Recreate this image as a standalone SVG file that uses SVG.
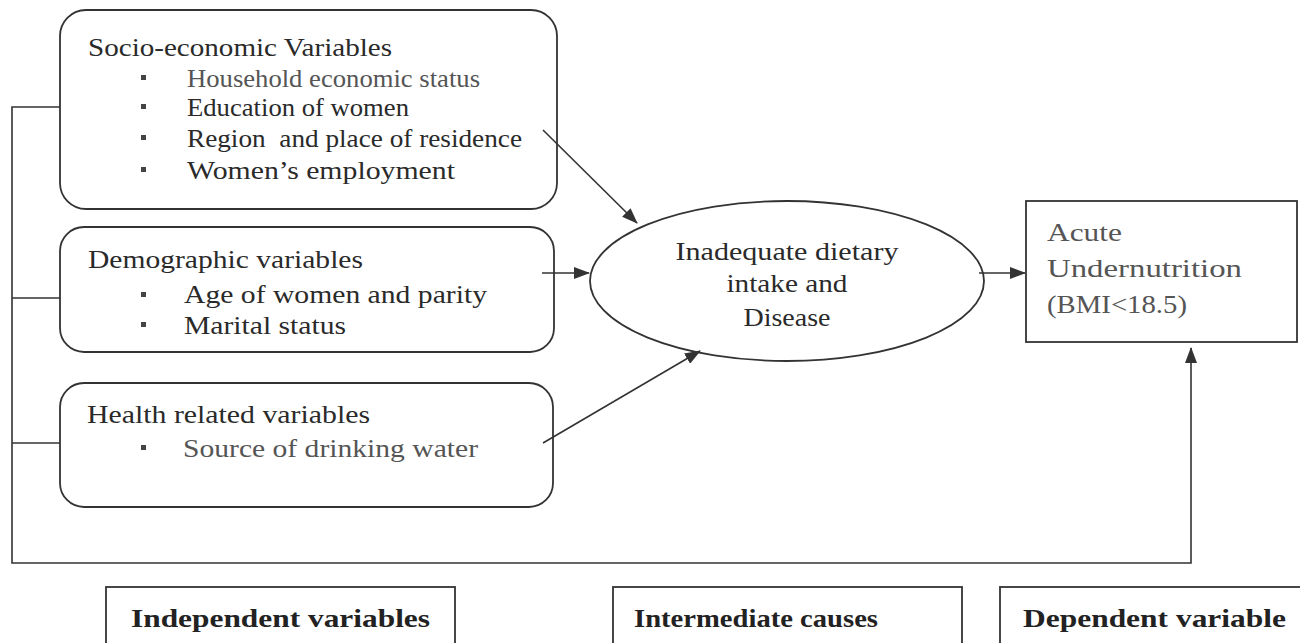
<svg xmlns="http://www.w3.org/2000/svg" width="1300" height="643" viewBox="0 0 1300 643">
<style>
.box{fill:none;stroke:#333;stroke-width:1.8}
.ln{fill:none;stroke:#333;stroke-width:1.6}
.t{font-family:"Liberation Serif","Times New Roman",serif;fill:#2a2a2a;white-space:pre}
.h{font-size:26px}
.i{font-size:25px}
.g{fill:#555}
.b{font-weight:bold;font-size:26px;fill:#222}
.bul{fill:#444}
</style>
<defs>
<marker id="ah" markerWidth="16" markerHeight="12" refX="15" refY="6" orient="auto" markerUnits="userSpaceOnUse">
<path d="M0,0 L16,6 L0,12 Z" fill="#333"/>
</marker>
</defs>
<rect width="1300" height="643" fill="#fff"/>
<g id="connectors">
<polyline class="ln" points="60,107 12,107 12,563 1191,563 1191,348" marker-end="url(#ah)"/>
<line class="ln" x1="12" y1="298" x2="60" y2="298"/>
<line class="ln" x1="12" y1="443" x2="60" y2="443"/>
<line class="ln" x1="543" y1="130" x2="637" y2="223" marker-end="url(#ah)"/>
<line class="ln" x1="542" y1="273" x2="589" y2="273" marker-end="url(#ah)"/>
<line class="ln" x1="543" y1="443" x2="700" y2="351" marker-end="url(#ah)"/>
<line class="ln" x1="979" y1="273" x2="1025" y2="273" marker-end="url(#ah)"/>
</g>
<g id="socio">
<rect class="box" x="60" y="10" width="497" height="199" rx="26"/>
<text class="t h" x="88" y="56" textLength="304" lengthAdjust="spacingAndGlyphs">Socio-economic Variables</text>
<rect class="bul" x="141" y="75" width="5" height="5"/>
<rect class="bul" x="141" y="104" width="5" height="5"/>
<rect class="bul" x="141" y="135" width="5" height="5"/>
<rect class="bul" x="141" y="167" width="5" height="5"/>
<text class="t i g" x="187" y="87" textLength="293" lengthAdjust="spacingAndGlyphs">Household economic status</text>
<text class="t i" x="187" y="116" textLength="222" lengthAdjust="spacingAndGlyphs">Education of women</text>
<text class="t i" x="187" y="147" textLength="335" lengthAdjust="spacingAndGlyphs">Region  and place of residence</text>
<text class="t h" x="187" y="179" textLength="268" lengthAdjust="spacingAndGlyphs">Women’s employment</text>
</g>
<g id="demographic">
<rect class="box" x="60" y="227" width="494" height="125" rx="24"/>
<text class="t h" x="88" y="268" textLength="275" lengthAdjust="spacingAndGlyphs">Demographic variables</text>
<rect class="bul" x="141" y="292" width="5" height="5"/>
<rect class="bul" x="141" y="322" width="5" height="5"/>
<text class="t h" x="184" y="303" textLength="303" lengthAdjust="spacingAndGlyphs">Age of women and parity</text>
<text class="t h" x="184" y="334" textLength="162" lengthAdjust="spacingAndGlyphs">Marital status</text>
</g>
<g id="health">
<rect class="box" x="60" y="383" width="493" height="124" rx="24"/>
<text class="t h" x="87" y="423" textLength="283" lengthAdjust="spacingAndGlyphs">Health related variables</text>
<rect class="bul" x="141" y="445" width="5" height="5"/>
<text class="t h g" x="183" y="457" textLength="295" lengthAdjust="spacingAndGlyphs">Source of drinking water</text>
</g>
<g id="intermediate">
<ellipse class="box" cx="787" cy="281" rx="197" ry="80"/>
<text class="t h" x="787" y="260" text-anchor="middle" textLength="223" lengthAdjust="spacingAndGlyphs">Inadequate dietary</text>
<text class="t h" x="787" y="292" text-anchor="middle" textLength="121" lengthAdjust="spacingAndGlyphs">intake and</text>
<text class="t h" x="787" y="326" text-anchor="middle" textLength="87" lengthAdjust="spacingAndGlyphs">Disease</text>
</g>
<g id="outcome">
<rect class="box" x="1026" y="201" width="271" height="141"/>
<text class="t h g" x="1047" y="241" textLength="75" lengthAdjust="spacingAndGlyphs">Acute</text>
<text class="t h g" x="1047" y="277" textLength="195" lengthAdjust="spacingAndGlyphs">Undernutrition</text>
<text class="t h g" x="1047" y="313" textLength="140" lengthAdjust="spacingAndGlyphs">(BMI&lt;18.5)</text>
</g>
<g id="label-independent">
<rect class="box" x="106" y="587" width="349" height="80"/>
<text class="t b" x="131" y="627" textLength="299" lengthAdjust="spacingAndGlyphs">Independent variables</text>
</g>
<g id="label-intermediate">
<rect class="box" x="613" y="587" width="349" height="80"/>
<text class="t b" x="634" y="627" textLength="244" lengthAdjust="spacingAndGlyphs">Intermediate causes</text>
</g>
<g id="label-dependent">
<rect class="box" x="1000" y="587" width="320" height="80"/>
<text class="t b" x="1023" y="627" textLength="263" lengthAdjust="spacingAndGlyphs">Dependent variable</text>
</g>
</svg>
